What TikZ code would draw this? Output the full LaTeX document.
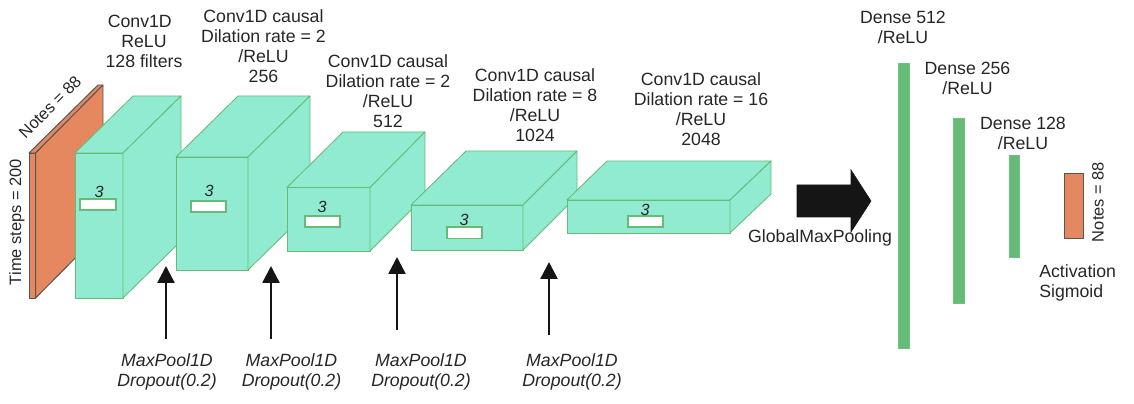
\documentclass[tikz,border=0pt]{standalone}
\usepackage{fontspec}
\setmainfont{Liberation Sans}
\usetikzlibrary{arrows.meta}
\definecolor{convfill}{HTML}{90EBD0}
\definecolor{convedge}{HTML}{66BB77}
\definecolor{notesfill}{HTML}{E6885F}
\definecolor{notesedge}{HTML}{555555}
\definecolor{arrowblack}{HTML}{151515}
\tikzset{
  conv/.style={fill=convfill,draw=convedge,line width=0.6pt,line join=round},
  notes/.style={fill=notesfill,draw=notesedge,line width=0.7pt,line join=round},
  kernel/.style={fill=white,draw=convedge,line width=1pt},
  dense/.style={fill=convedge,draw=convedge!85!convfill,very thin},
  lbl/.style={font=\fontsize{12.6}{14.2}\selectfont,text=black!85,align=center,inner sep=0pt},
  sidelbl/.style={lbl,font=\fontsize{11.7}{14.2}\selectfont},
  poollbl/.style={lbl,font=\fontsize{12.6}{14.2}\selectfont\itshape},
  kernellbl/.style={font=\fontsize{11.5}{13}\selectfont\itshape,text=black!85,inner sep=0pt},
  poolarrow/.style={draw=arrowblack,line width=1.8pt,-{Triangle[length=0.425cm,width=0.425cm]}},
}
\begin{document}
\begin{tikzpicture}
\useasboundingbox (0,0) rectangle (28.35,10.075);
\draw[notes] (0.725,2.625) rectangle (0.89,6.25);
\draw[notes] (0.725,6.25) -- (2.45,7.95) -- (2.575,7.95) -- (0.89,6.25) -- cycle;
\draw[notes] (0.89,6.25) -- (2.575,7.95) -- (2.575,4.325) -- (0.89,2.625) -- cycle;
\node[sidelbl,rotate=45] (notesin) at (1.25,7.4) {Notes = 88};
\node[sidelbl,rotate=90] (timesteps) at (0.42,4.525) {Time steps = 200};

\draw[conv] (1.875,2.625) rectangle (3.075,6.25);
\draw[conv] (1.875,6.25) -- (3.325,7.675) -- (4.525,7.675) -- (3.075,6.25) -- cycle;
\draw[conv] (3.075,6.25) -- (4.525,7.675) -- (4.525,4.05) -- (3.075,2.625) -- cycle;
\draw[kernel] (2,4.825) rectangle (2.9,5.1);
\node[kernellbl] (kernela) at (2.475,5.275) {3};

\draw[conv] (4.4,3.325) rectangle (6.2,6.15);
\draw[conv] (4.4,6.15) -- (5.95,7.675) -- (7.75,7.675) -- (6.2,6.15) -- cycle;
\draw[conv] (6.2,6.15) -- (7.75,7.675) -- (7.75,4.85) -- (6.2,3.325) -- cycle;
\draw[kernel] (4.775,4.775) rectangle (5.65,5.05);
\node[kernellbl] (kernelb) at (5.225,5.3) {3};

\draw[conv] (7.175,3.8) rectangle (9.25,5.388);
\draw[conv] (7.175,5.388) -- (8.575,6.775) -- (10.625,6.775) -- (9.25,5.388) -- cycle;
\draw[conv] (9.25,5.388) -- (10.625,6.775) -- (10.625,5.175) -- (9.25,3.8) -- cycle;
\draw[kernel] (7.625,4.4) rectangle (8.5,4.675);
\node[kernellbl] (kernelc) at (8.05,4.9) {3};

\draw[conv] (10.275,3.825) rectangle (13.075,4.95);
\draw[conv] (10.275,4.95) -- (11.65,6.3) -- (14.425,6.3) -- (13.075,4.95) -- cycle;
\draw[conv] (13.075,4.95) -- (14.425,6.3) -- (14.425,5.175) -- (13.075,3.825) -- cycle;
\draw[kernel] (11.175,4.1125) rectangle (12.05,4.4);
\node[kernellbl] (kerneld) at (11.6,4.575) {3};

\draw[conv] (14.175,4.25) rectangle (18.25,5.075);
\draw[conv] (14.175,5.075) -- (15.175,6.05) -- (19.275,6.05) -- (18.25,5.075) -- cycle;
\draw[conv] (18.25,5.075) -- (19.275,6.05) -- (19.275,5.225) -- (18.25,4.25) -- cycle;
\draw[kernel] (15.7,4.4) rectangle (16.575,4.675);
\node[kernellbl] (kernele) at (16.125,4.825) {3};

\node[lbl] (conva) at (3.6,9.05) {Conv1D\hspace*{6pt}\\ReLU\\128 filters};
\node[lbl] (convb) at (6.5875,8.925) {Conv1D causal\\Dilation rate = 2\\/ReLU\\256};
\node[lbl] (convc) at (9.7,7.8) {Conv1D causal\\Dilation rate = 2\\/ReLU\\512};
\node[lbl] (convd) at (13.375,7.45) {Conv1D causal\\Dilation rate = 8\\/ReLU\\1024};
\node[lbl] (conve) at (17.525,7.35) {Conv1D causal\\Dilation rate = 16\\/ReLU\\2048};

\coordinate (poolatail) at (4.15,1.6);
\coordinate (poolatip) at (4.15,3.425);
\coordinate (poolbtail) at (6.775,1.6);
\coordinate (poolbtip) at (6.775,3.425);
\coordinate (poolctail) at (9.925,1.825);
\coordinate (poolctip) at (9.925,3.65);
\coordinate (pooldtail) at (13.725,1.7);
\coordinate (pooldtip) at (13.725,3.525);
\draw[poolarrow] (poolatail) -- (poolatip);
\draw[poolarrow] (poolbtail) -- (poolbtip);
\draw[poolarrow] (poolctail) -- (poolctip);
\draw[poolarrow] (pooldtail) -- (pooldtip);
\node[poollbl] (poola) at (4.175,0.7875) {MaxPool1D\\Dropout(0.2)};
\node[poollbl] (poolb) at (7.2875,0.7875) {MaxPool1D\\Dropout(0.2)};
\node[poollbl] (poolc) at (10.525,0.7875) {MaxPool1D\\Dropout(0.2)};
\node[poollbl] (poold) at (14.3,0.7875) {MaxPool1D\\Dropout(0.2)};

\draw[fill=arrowblack,draw=arrowblack] (19.925,4.65) -- (19.925,5.45) -- (21.275,5.45) -- (21.275,5.825) -- (21.775,5.05) -- (21.275,4.275) -- (21.275,4.65) -- cycle;
\node[lbl] (globalpool) at (20.5,4.125) {GlobalMaxPooling};

\draw[dense] (22.45,1.375) rectangle (22.725,8.5);
\draw[dense] (23.825,2.5) rectangle (24.1,7.125);
\draw[dense] (25.225,3.65) rectangle (25.475,6.2);
\draw[notes] (26.6,4.125) rectangle (27.075,5.75);
\node[lbl] (densea) at (22.575,9.4) {Dense 512\\/ReLU};
\node[lbl] (denseb) at (24.1875,8.125) {Dense 256\\/ReLU};
\node[lbl] (densec) at (25.575,6.75) {Dense 128\\/ReLU};
\node[sidelbl,rotate=90] (notesout) at (27.45,5.025) {Notes = 88};
\node[lbl,align=left,anchor=west] (sigmoid) at (25.975,3) {Activation\\Sigmoid};

\end{tikzpicture}
\end{document}
